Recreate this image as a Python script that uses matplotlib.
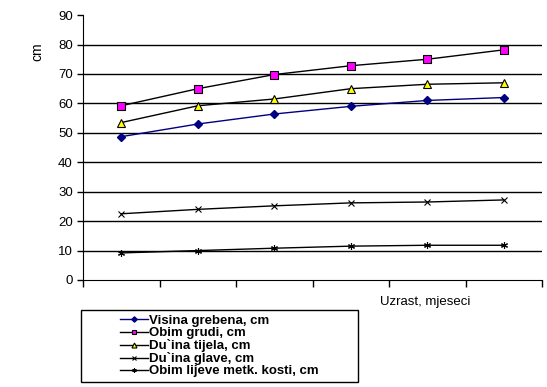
import matplotlib.pyplot as plt
from matplotlib.patches import Rectangle
import numpy as np

plt.rcParams['font.family'] = ['Liberation Sans', 'DejaVu Sans']

months = ["1", "2", "3", "4", "5", "6"]
visina = [48.7, 53.0, 56.4, 59.0, 61.0, 62.0]
obim_grudi = [59.2, 65.0, 69.8, 72.8, 75.0, 78.2]
duzina_tijela = [53.5, 59.2, 61.5, 65.0, 66.5, 67.0]
duzina_glave = [22.5, 24.0, 25.2, 26.2, 26.5, 27.2]
obim_kosti = [9.2, 10.0, 10.8, 11.5, 11.8, 11.8]

fig = plt.figure(figsize=(5.47, 3.87), dpi=100)
ax = fig.add_axes([0.152, 0.2765, 0.839, 0.6845])

x = np.arange(len(months)) + 0.5
l1, = ax.plot(x, visina, color='#000080', lw=1, marker='D', ms=4.5, mfc='#000080', mec='#000080')
l2, = ax.plot(x, obim_grudi, color='black', lw=1, marker='s', ms=5.5, mfc='#ff00ff', mec='black', mew=0.8)
l3, = ax.plot(x, duzina_tijela, color='black', lw=1, marker='^', ms=6, mfc='#ffff00', mec='black', mew=0.8)
l4, = ax.plot(x, duzina_glave, color='black', lw=1, marker='x', ms=4.5, mew=0.8)
l5, = ax.plot(x, obim_kosti, color='black', lw=1, marker=(6, 2, 0), ms=5, mew=0.8)

ax.set_xlim(0, len(months))
ax.set_ylim(0, 90)
ax.set_yticks(range(0, 91, 10))
ax.set_xticks(range(0, len(months) + 1))
ax.set_xticklabels([])
for yv in range(10, 90, 10):
    ax.axhline(yv, color='black', lw=1, zorder=0)
ax.spines['top'].set_visible(False)
ax.spines['right'].set_visible(False)
ax.tick_params(axis='both', direction='out', length=4, width=1, labelsize=9.5)
ax.tick_params(axis='x', length=5)
ax.set_ylabel("cm", fontsize=10)
ax.yaxis.set_label_coords(-0.085, 0.86)

fig.text(0.695, 0.212, "Uzrast, mjeseci", fontsize=9.5)

# legend box (fixed size, like Excel)
box = (81 / 547, 1 - 382 / 387, 277 / 547, 72 / 387)
fig.patches.append(Rectangle(box[:2], box[2], box[3], transform=fig.transFigure,
                             fill=False, edgecolor='black', lw=1))
leg = fig.legend([l1, l2, l3, l4, l5],
                 ["Visina grebena, cm", "Obim grudi, cm", "Du`ina tijela, cm",
                  "Du`ina glave, cm", "Obim lijeve metk. kosti, cm"],
                 loc='center', bbox_to_anchor=box,
                 prop={'weight': 'bold', 'size': 9.5}, frameon=False,
                 handlelength=2.1, labelspacing=0.0,
                 borderpad=0.1, handletextpad=0.1, markerscale=0.6)

fig.savefig("out.png", dpi=100)
